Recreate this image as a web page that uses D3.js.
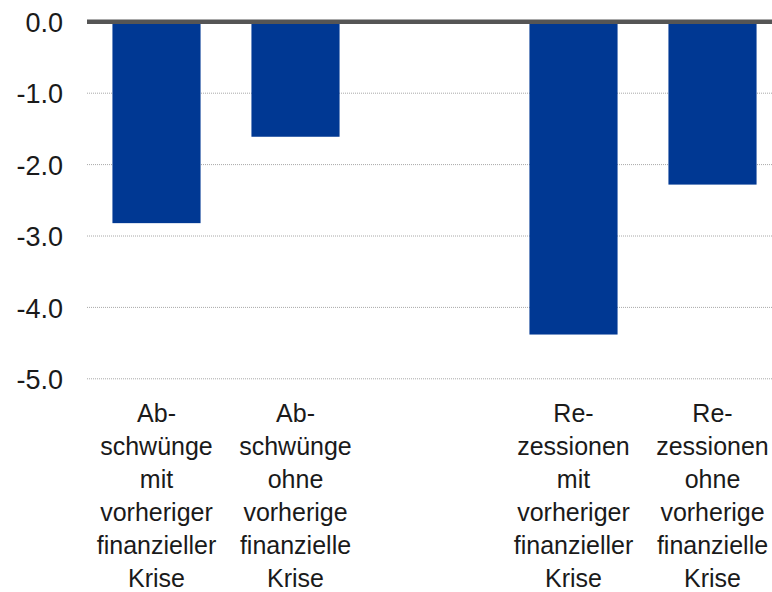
<!DOCTYPE html>
<html>
<head>
<meta charset="utf-8">
<script src="https://cdn.jsdelivr.net/npm/d3@7"></script>
<style>
  body { margin: 0; background: #fff; }
  text { font-family: "Liberation Sans", Arial, sans-serif; fill: #1a1a1a; }
</style>
</head>
<body>
<script>
// data
var categories = ["c1", "c2", "gap", "c3", "c4"];
var values = [-2.82, -1.61, null, -4.38, -2.28];
var labels = [
  ["Ab-", "schwünge", "mit", "vorheriger", "finanzieller", "Krise"],
  ["Ab-", "schwünge", "ohne", "vorherige", "finanzielle", "Krise"],
  [],
  ["Re-", "zessionen", "mit", "vorheriger", "finanzieller", "Krise"],
  ["Re-", "zessionen", "ohne", "vorherige", "finanzielle", "Krise"]
];
var yTicks = [0, -1, -2, -3, -4, -5];

var W = 772, H = 592;
var left = 87, right = 772, top0 = 21.8, bottom0 = 378.8;

var svg = d3.select("body").append("svg")
    .attr("width", W)
    .attr("height", H);

var x = d3.scaleBand()
    .domain(categories)
    .range([left, left + 695])
    .paddingInner(0.366)
    .paddingOuter(0.183);

var y = d3.scaleLinear()
    .domain([0, -5])
    .range([top0, bottom0]);

// gridlines
svg.append("g").selectAll("line")
    .data(yTicks.filter(function(d) { return d !== 0; }))
    .enter().append("line")
    .attr("x1", left)
    .attr("x2", right)
    .attr("y1", function(d) { return y(d); })
    .attr("y2", function(d) { return y(d); })
    .attr("stroke", "#a8a8a8")
    .attr("stroke-width", 1)
    .attr("stroke-dasharray", "1,1");

// y axis labels (plain hyphen like the original)
var yAxis = d3.axisLeft(y)
    .tickValues(yTicks)
    .tickSize(0)
    .tickPadding(0)
    .tickFormat(function(d) { return d.toFixed(1); });

svg.append("g")
    .attr("transform", "translate(63,0)")
    .call(yAxis)
    .call(function(g) { g.select(".domain").remove(); })
    .selectAll("text")
    .attr("font-size", "27px")
    .attr("dy", "0.36em")
    .style("font-family", "'Liberation Sans', Arial, sans-serif")
    .attr("fill", "#1a1a1a");

// bars
var barData = categories.map(function(c, i) { return { c: c, v: values[i] }; })
    .filter(function(d) { return d.v !== null; });

svg.append("g").selectAll("rect")
    .data(barData)
    .enter().append("rect")
    .attr("x", function(d) { return x(d.c); })
    .attr("y", y(0))
    .attr("width", x.bandwidth())
    .attr("height", function(d) { return y(d.v) - y(0); })
    .attr("fill", "#003893");

// zero line
svg.append("line")
    .attr("x1", left)
    .attr("x2", right)
    .attr("y1", y(0))
    .attr("y2", y(0))
    .attr("stroke", "#555555")
    .attr("stroke-width", 4.5);

// category labels
var lab = svg.append("g").selectAll("text")
    .data(categories.map(function(c, i) { return { c: c, lines: labels[i] }; }))
    .enter().append("text")
    .attr("text-anchor", "middle")
    .attr("font-size", "25px");

lab.selectAll("tspan")
    .data(function(d) { return d.lines.map(function(l) { return { c: d.c, t: l }; }); })
    .enter().append("tspan")
    .attr("x", function(d) { return x(d.c) + x.bandwidth() / 2; })
    .attr("y", function(d, i) { return 422 + i * 33; })
    .text(function(d) { return d.t; });
</script>
</body>
</html>
